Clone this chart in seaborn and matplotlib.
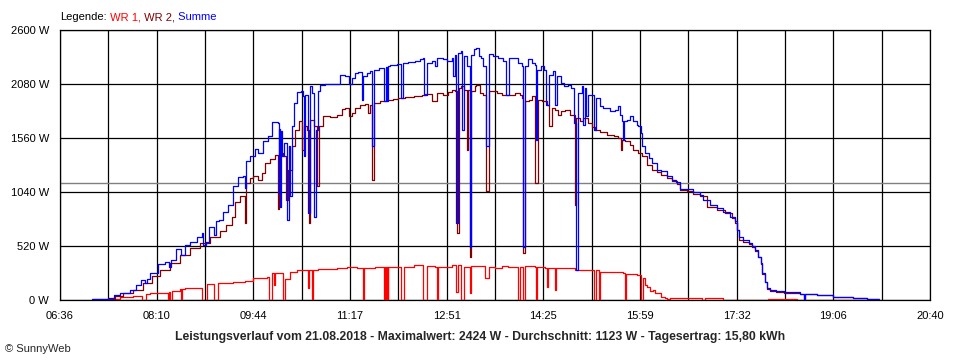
import numpy as np
import pandas as pd
import matplotlib
matplotlib.use("Agg")
import matplotlib.pyplot as plt
import seaborn as sns

summe = [
    (427, 8), (443, 15), (448, 48), (454, 71), (464, 96), (470, 145), (475, 193), (478, 167),
    (480, 200), (483, 257), (491, 347), (498, 370), (502, 315), (504, 386), (509, 489), (513, 434),
    (517, 531), (522, 563), (529, 611), (534, 650), (535, 531), (538, 563), (541, 707), (545, 627),
    (547, 762), (550, 772), (554.5, 852), (559, 917), (564, 1093), (569, 1183), (574, 1190), (575, 1077),
    (576, 1335), (580, 1389), (585, 1454), (588, 1415), (593, 1528), (598, 1582), (602, 1711), (607, 1704),
    (608, 1029), (608.5, 1650), (609, 900), (610, 1624), (611.5, 1383), (613, 1511), (616.5, 772), (618, 1479),
    (619, 997), (621, 1672), (623, 1897), (626, 2004), (630, 2010), (631.5, 1962), (632.5, 1383), (633.5, 1978),
    (637, 836), (638.5, 2065), (640.5, 1994), (642.5, 804), (644, 1640), (646.5, 2010), (648, 2074), (653, 2084),
    (664, 2084), (667.5, 2171), (672.5, 2161), (676, 2084), (679, 2139), (682, 2187), (685.5, 2193), (689, 1930),
    (690, 2155), (693.5, 2187), (697, 2203), (699, 1479), (700.5, 2219), (705, 2235), (710.5, 1914), (712, 2240),
    (713, 1914), (714.5, 2251), (716, 2267), (722.5, 2277), (727, 1946), (729, 2283), (734, 2290), (740, 2299),
    (745, 2316), (748.5, 2332), (749, 1978), (752, 2283), (756.5, 2299), (760, 2251), (761.5, 2332), (768, 2316),
    (771, 2299), (776, 2332), (777.5, 2155), (779, 2364), (780.5, 739), (782, 2380), (785, 2396), (786, 1640),
    (787.5, 2348), (791, 2251), (793.5, 515), (795, 2364), (798, 2418), (800, 2424), (802.5, 2348), (804.5, 2332),
    (806.5, 2251), (809.5, 1479), (812.5, 2373), (816, 2348), (821, 2332), (826, 2299), (828.5, 1978), (832, 2332),
    (840.5, 2283), (844, 2251), (845.5, 515), (847, 2251), (850, 2316), (853.5, 2283), (856.5, 2267), (857.5, 1544),
    (859, 2219), (863, 2251), (866, 2219), (867, 1881), (870.5, 2171), (874.5, 2203), (876, 1881), (878, 2155),
    (882.5, 2090), (885, 2058), (888.5, 2074), (891.5, 2042), (894.5, 1704), (897, 289), (898.5, 1994), (902, 2058),
    (903.5, 1688), (905, 2042), (906.5, 1769), (908, 1978), (912, 1978), (914, 1640), (916, 1946), (920, 1865),
    (923, 1849), (929.5, 1817), (934.5, 1833), (937.5, 1865), (939.5, 1785), (941, 1720), (942.5, 1544), (943.5, 1720),
    (946, 1737), (949, 1769), (952, 1720), (955.5, 1690), (957, 1672), (959.5, 1608), (960.5, 1479), (963.5, 1415),
    (967, 1367), (970, 1319), (975, 1254), (979.5, 1238), (984.5, 1190), (989.5, 1158), (994, 1132), (997.5, 1068),
    (1004, 1068), (1010.5, 1036), (1017, 1013), (1020, 965), (1026.5, 917), (1033, 884), (1039.5, 852), (1046, 804),
    (1051, 756), (1053, 675), (1055, 611), (1059, 579), (1064, 547), (1067, 521), (1070.5, 482), (1073.5, 418),
    (1076, 354), (1077.5, 257), (1079.5, 177), (1081.5, 113), (1085, 96), (1091, 87), (1098, 80), (1107.5, 74),
    (1114, 58), (1117.5, 6), (1119, 58), (1130, 48), (1146, 32), (1151, 26), (1165.5, 16), (1178.5, 10), (1191, 6),
]

wr2 = [
    (427, 5), (443, 13), (449.5, 39), (457.5, 64), (467, 96), (477, 167), (485, 232), (493, 289),
    (502.5, 354), (512.5, 434), (522, 498), (532, 553), (541.5, 605), (551, 669), (557.5, 724), (562.5, 804),
    (566, 939), (570.5, 997), (574.5, 1003), (575, 746), (576, 1126), (580.5, 1174), (583.5, 1190), (588.5, 1158),
    (591.5, 1222), (595, 1319), (600, 1357), (604.5, 1399), (607, 875), (608, 1399), (609.5, 1415), (612, 1383),
    (615.5, 965), (617.5, 1254), (621, 1479), (624, 1640), (627.5, 1720), (631, 1447), (632.5, 1672), (635.5, 1640),
    (637.5, 740), (639, 1737), (642, 1672), (645, 1093), (647, 1672), (651.5, 1769), (658, 1763), (664.5, 1785),
    (669.5, 1840), (672.5, 1849), (676, 1769), (679, 1801), (682, 1849), (687, 1881), (692, 1891), (694.5, 1801),
    (696.5, 1881), (699, 1158), (701, 1897), (706.5, 1914), (713, 1923), (719.5, 1936), (724, 1946), (730.5, 1955),
    (739, 1962), (747, 1978), (750, 1985), (757, 1914), (761.5, 1994), (768, 1978), (772.5, 2001), (776, 2026),
    (779, 2010), (781, 643), (783, 2042), (785.5, 2058), (788, 2026), (791, 1447), (792, 2026), (793.5, 418),
    (795, 2010), (798.5, 2058), (800, 2074), (803.5, 1994), (806.5, 1978), (809.5, 1045), (812, 2010), (815.5, 2010),
    (819.5, 1994), (824.5, 1978), (831, 1978), (837.5, 1994), (842, 1978), (844, 1946), (844.8, 450), (847, 1914),
    (850.5, 1930), (853.5, 1962), (857, 1126), (859.5, 1930), (863.5, 1914), (868, 1881), (870.5, 1672), (873, 1849),
    (876, 1833), (879.5, 1785), (882.5, 1817), (886, 1833), (891, 1785), (895.5, 917), (897, 1753), (900.5, 1720),
    (903.5, 1753), (908.5, 1704), (912, 1666), (915, 1640), (920, 1615), (926.5, 1592), (933, 1576), (937.5, 1560),
    (940, 1447), (941, 1540), (944, 1528), (949, 1495), (952, 1447), (957, 1415), (960.5, 1383), (965, 1302),
    (970, 1254), (975, 1229), (979.5, 1206), (984.5, 1174), (989.5, 1142), (994.5, 1119), (997.5, 1061), (1004, 1045),
    (1010.5, 1023), (1017, 997), (1023.5, 900), (1033, 868), (1041, 836), (1047.5, 788), (1051, 740), (1053, 675),
    (1055, 579), (1059, 563), (1064, 540), (1067, 515), (1070.5, 470), (1073.5, 410), (1076, 345), (1077.5, 250),
    (1079.5, 170), (1081.5, 103), (1085, 86), (1091, 77), (1098, 70), (1107.5, 66), (1114, 58), (1117.5, 6),
    (1119, 58), (1130, 48), (1146, 32), (1151, 26), (1165.5, 16), (1178.5, 10), (1191, 6),
]

wr1 = [
    (443, 0), (445, 6), (454, 26), (467, 39), (476, 0), (479.5, 55), (483, 64), (493, 71),
    (500.5, 0), (502, 80), (503, 0), (505, 85), (506, 90), (512, 103), (513.5, 0), (514.5, 108),
    (517, 112), (533.5, 0), (538.5, 154), (545, 0), (549.5, 167), (564, 177), (575.5, 186), (583.5, 209),
    (596.5, 218), (599, 0), (601.5, 257), (604, 144), (605, 257), (612.5, 0), (614, 199), (619, 273),
    (625.5, 289), (637, 112), (638, 289), (640, 0), (641, 289), (646.5, 295), (651.5, 296), (657, 300),
    (664.5, 305), (674, 322), (684, 305), (689.5, 0), (691, 305), (701.5, 322), (710.5, 0), (711.5, 322),
    (712.5, 0), (713.5, 322), (714, 0), (714.5, 322), (727, 0), (729.5, 322), (739, 338), (748.5, 0),
    (752, 328), (760, 322), (761.5, 0), (763, 322), (776, 338), (780, 80), (782, 338), (785.5, 0),
    (788, 322), (793.5, 64), (795, 330), (805, 328), (808, 209), (812, 322), (818, 305), (824.5, 328),
    (831, 322), (839, 322), (840.5, 0), (842, 315), (845.5, 0), (847, 328), (857, 322), (857.5, 0),
    (859, 322), (866.5, 305), (868, 129), (869.5, 305), (876, 96), (877.5, 305), (888.5, 305), (895.5, 289),
    (908.5, 289), (914.5, 0), (916, 289), (918.5, 0), (920, 273), (932.5, 267), (942.5, 263), (944, 0),
    (945, 251), (955.5, 241), (960, 0), (962, 209), (963.5, 145), (965, 129), (968.5, 90), (971.5, 96),
    (973, 71), (978, 64), (979.5, 32), (983, 16), (984.5, 6), (988, 16), (1018.5, 0), (1022, 16),
    (1039, 0), (1083, 10), (1111, 0), (1191, 0),
]

avg_w = 1123
y_ticks = [0, 520, 1040, 1560, 2080, 2600]
x_labels = ["06:36", "08:10", "09:44", "11:17", "12:51", "14:25", "15:59", "17:32", "19:06", "20:40"]
t_start, t_end = 396, 1240

title = ("Leistungsverlauf vom 21.08.2018 - Maximalwert: 2424 W - "
         "Durchschnitt: 1123 W - Tagesertrag: 15,80 kWh")

colors = {"WR 1": "#ff0000", "WR 2": "#800000", "Summe": "#0000ff"}

frames = []
for name, pts in [("WR 1", wr1), ("WR 2", wr2), ("Summe", summe)]:
    d = pd.DataFrame(pts, columns=["t", "W"])
    d["serie"] = name
    frames.append(d)
df = pd.concat(frames, ignore_index=True)

sns.set_style("white")
plt.rcParams["font.family"] = ["Liberation Sans", "DejaVu Sans"]
plt.rcParams["font.size"] = 8

fig = plt.figure(figsize=(9.6, 3.6), dpi=100)
ax = fig.add_axes([60 / 960, 60 / 360, 870 / 960, 270 / 360])

# Durchschnittslinie
ax.axhline(avg_w, color="#808080", linewidth=1.0, zorder=1.5)

sns.lineplot(data=df, x="t", y="W", hue="serie", hue_order=["WR 1", "WR 2", "Summe"],
             palette=colors, estimator=None, sort=False, drawstyle="steps-post",
             linewidth=0.9, legend=False, ax=ax, zorder=3)

ax.set_xlim(t_start, t_end)
ax.set_ylim(0, 2600)
ax.set_xlabel("")
ax.set_ylabel("")

xt = np.linspace(t_start, t_end, 19)
ax.set_xticks(xt)
ax.set_xticklabels([x_labels[i // 2] if i % 2 == 0 else "" for i in range(19)])
ax.set_yticks(y_ticks)
ax.set_yticklabels([f"{v} W" for v in y_ticks])
ax.tick_params(direction="out", length=3.6, width=0.75, pad=4.3, colors="black", labelsize=8)

ax.set_axisbelow(True)
ax.grid(True, color="black", linewidth=0.9)
for s in ax.spines.values():
    s.set_color("black")
    s.set_linewidth(0.9)

# Legende oben links, mehrfarbig
fig.canvas.draw()
r = fig.canvas.get_renderer()
x = 60
for txt, col in [("Legende:", "black"), (" WR 1,", colors["WR 1"]),
                 (" WR 2,", colors["WR 2"]), (" Summe", colors["Summe"])]:
    t = fig.text(x / 960, 1 - 17 / 360, txt, color=col, fontsize=8, va="center", ha="left")
    x = t.get_window_extent(r).x1

fig.text(0.5, 1 - 337 / 360, title, ha="center", va="center", fontsize=8.8, fontweight="bold")
fig.text(5 / 960, 1 - 349 / 360, "\u00a9 SunnyWeb", ha="left", va="center", fontsize=8)

fig.savefig("out.png", dpi=100)
